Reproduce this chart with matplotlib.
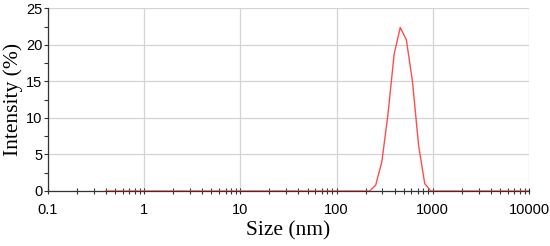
import numpy as np
import matplotlib.pyplot as plt
from matplotlib.ticker import FixedLocator, NullFormatter

# size bins (nm), 70 log-spaced DLS bins from 0.4 to 10000
n_bins = 70
size_nm = 0.4 * (10000 / 0.4) ** (np.arange(n_bins) / (n_bins - 1))

# intensity (%) per bin, zero except around the peak
intensity = [0.0] * n_bins
peak_vals = {44: 0.8, 45: 4.0, 46: 10.5, 47: 18.7, 48: 22.4,
             49: 20.7, 50: 15.0, 51: 6.2, 52: 1.0}
for i, v in peak_vals.items():
    intensity[i] = v

x_ticks = [0.1, 1, 10, 100, 1000, 10000]
x_labels = ['0.1', '1', '10', '100', '1000', '10000']
y_ticks = [0, 5, 10, 15, 20, 25]

fig = plt.figure(figsize=(5.5, 2.46), dpi=100)
ax = fig.add_axes([0.0873, 0.2236, 0.8745, 0.742])

ax.plot(size_nm, intensity, color='#ff4d4d', lw=1.0, zorder=3)

ax.set_xscale('log')
ax.set_xlim(0.1, 10000)
ax.set_ylim(0, 25)
ax.set_xticks(x_ticks)
ax.set_xticklabels(x_labels)
ax.xaxis.set_minor_locator(FixedLocator(
    [m * 10.0 ** e for e in range(-1, 4) for m in range(2, 10)]))
ax.xaxis.set_minor_formatter(NullFormatter())
ax.set_yticks(y_ticks)
ax.yaxis.set_minor_locator(FixedLocator(np.arange(0, 25, 2.5)))

ax.grid(True, which='major', color='#d4d4d4', lw=0.9)
for s in ['top', 'right']:
    ax.spines[s].set_visible(False)
for s in ['left', 'bottom']:
    ax.spines[s].set_color('#333333')
    ax.spines[s].set_linewidth(0.9)

ax.tick_params(axis='x', which='both', direction='inout', length=4,
               width=0.8, color='#333333', labelsize=10.5, pad=7)
ax.tick_params(axis='y', which='both', direction='out', length=3,
               width=0.8, color='#333333', labelsize=10.5, pad=1)
for lab in ax.get_xticklabels() + ax.get_yticklabels():
    lab.set_family('Liberation Sans')

ax.set_xlabel('Size (nm)', family='Liberation Serif', fontsize=15.5, labelpad=3)
ax.set_ylabel('Intensity (%)', family='Liberation Serif', fontsize=15.5, labelpad=2)

fig.savefig('out.png', dpi=100)
